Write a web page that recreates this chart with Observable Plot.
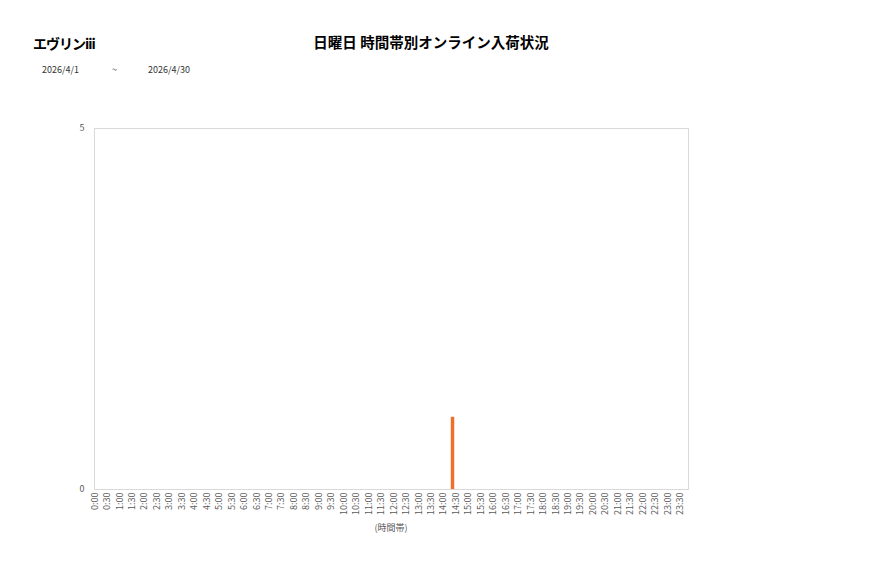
<!DOCTYPE html>
<html>
<head>
<meta charset="utf-8">
<script src="https://cdn.jsdelivr.net/npm/d3@7"></script>
<script src="https://cdn.jsdelivr.net/npm/@observablehq/plot@0.6"></script>
<style>
  html, body { margin: 0; padding: 0; background: #fff; }
  #wrap { position: relative; width: 877px; height: 578px; font-family: "Noto Sans CJK JP", "Noto Sans", sans-serif; }
  .t { position: absolute; white-space: nowrap; line-height: 1; }
  #store { left: 33px; top: 36px; font-size: 14px; font-weight: bold; color: #000; letter-spacing: -1px; }
  #title { left: 431px; top: 35px; font-size: 14.5px; font-weight: bold; color: #000; transform: translateX(-50%); }
  .date { top: 65px; font-size: 9px; color: #333; }
  #xlabel { left: 391px; top: 523px; font-size: 9px; color: #595959; transform: translateX(-50%); }
  #chart { position: absolute; left: 0; top: 0; }
</style>
</head>
<body>
<div id="wrap">
  <div id="chart"></div>
  <div class="t" id="store">エヴリンiii</div>
  <div class="t" id="title">日曜日 時間帯別オンライン入荷状況</div>
  <div class="t date" style="left:42px">2026/4/1</div>
  <div class="t date" style="left:112px">~</div>
  <div class="t date" style="left:148px">2026/4/30</div>
  <div class="t" id="xlabel">(時間帯)</div>
</div>
<script>
const times = [
  "0:00","0:30","1:00","1:30","2:00","2:30","3:00","3:30",
  "4:00","4:30","5:00","5:30","6:00","6:30","7:00","7:30",
  "8:00","8:30","9:00","9:30","10:00","10:30","11:00","11:30",
  "12:00","12:30","13:00","13:30","14:00","14:30","15:00","15:30",
  "16:00","16:30","17:00","17:30","18:00","18:30","19:00","19:30",
  "20:00","20:30","21:00","21:30","22:00","22:30","23:00","23:30"
];
const counts = [
  0,0,0,0,0,0,0,0,
  0,0,0,0,0,0,0,0,
  0,0,0,0,0,0,0,0,
  0,0,0,0,0,1,0,0,
  0,0,0,0,0,0,0,0,
  0,0,0,0,0,0,0,0
];
const yTicks = [0, 5];
const yMax = 5;

const data = times.map((t, i) => ({time: t, value: counts[i]}));

const chart = Plot.plot({
  width: 877,
  height: 578,
  marginLeft: 94,
  marginRight: 189,
  marginTop: 128,
  marginBottom: 89,
  style: {fontFamily: "'Noto Sans CJK JP', 'Noto Sans', sans-serif", fontSize: "9px", color: "#595959", background: "transparent"},
  x: {type: "band", domain: times, range: [88, 686], padding: 0, round: false, label: null},
  y: {domain: [0, yMax], label: null},
  marks: [
    Plot.frame({stroke: "#d9d9d9"}),
    Plot.barY(data, {x: "time", y: "value", fill: "#ee7028", insetLeft: 1.5, insetRight: 7.5}),
    Plot.axisX({tickRotate: -90, tickSize: 0, tickPadding: 3, label: null}),
    Plot.axisY({ticks: yTicks, tickFormat: "d", tickSize: 0, tickPadding: 10, label: null})
  ]
});
document.getElementById("chart").appendChild(chart);
</script>
</body>
</html>
